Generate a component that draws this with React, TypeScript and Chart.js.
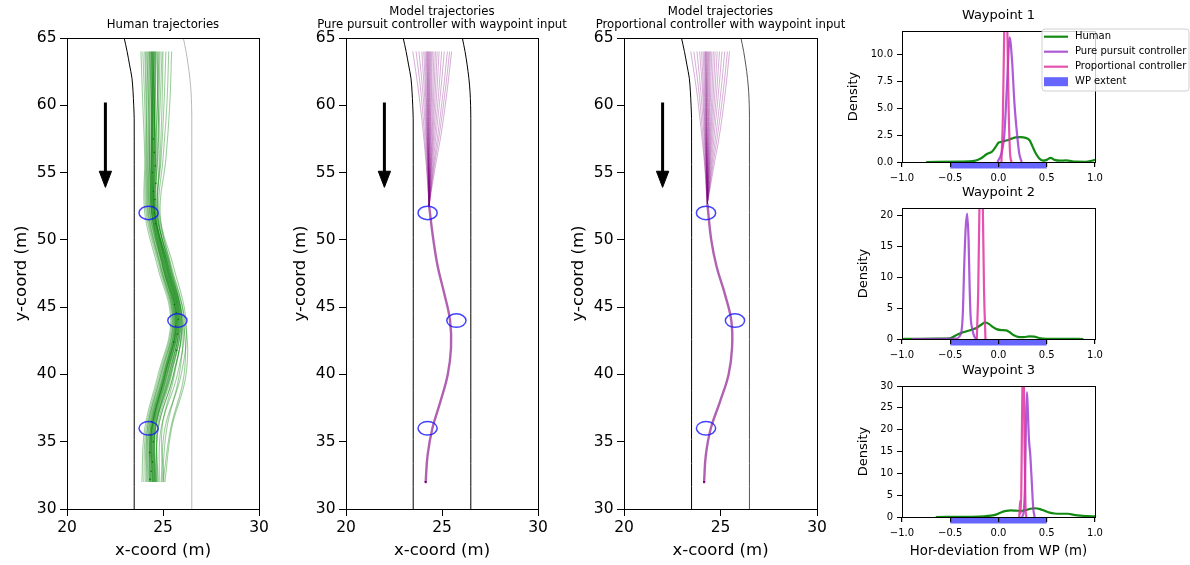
import React, { useEffect, useRef } from "react";
import { Chart, registerables } from "chart.js";

Chart.register(...registerables);
Chart.defaults.font.family = "'DejaVu Sans', 'Liberation Sans', sans-serif";
Chart.defaults.color = "#000";

const PAGE_W = 1190;
const PAGE_H = 565;

// ---------------- trajectory data ----------------
const TRAJ_TITLES_HUMAN = ["Human trajectories"];
const TRAJ_TITLES_PP = ["Model trajectories", "Pure pursuit controller with waypoint input"];
const TRAJ_TITLES_PROP = ["Model trajectories", "Proportional controller with waypoint input"];
const X_AXIS_TITLE = "x-coord (m)";
const Y_AXIS_TITLE = "y-coord (m)";
const TRAJ_X_RANGE = [20, 30];
const TRAJ_Y_RANGE = [30, 65];
const TRAJ_TICK_STEP = 5;

const HUMAN_Y = [64, 60, 56, 52, 48, 44, 40, 36, 32];
const HUMAN_X_RUNS = [
  [24.4, 24.42, 24.4, 24.42, 25.05, 25.7, 25.1, 24.4, 24.4],
  [24.55, 24.52, 24.48, 24.5, 25.15, 25.78, 25.2, 24.48, 24.5],
  [24.3, 24.32, 24.3, 24.35, 24.98, 25.62, 25.02, 24.32, 24.3],
  [24.65, 24.6, 24.55, 24.58, 25.22, 25.85, 25.3, 24.55, 24.58],
  [24.2, 24.22, 24.22, 24.25, 24.9, 25.55, 24.95, 24.25, 24.2],
  [24.75, 24.7, 24.62, 24.62, 25.28, 25.92, 25.4, 24.62, 24.65],
  [24.1, 24.15, 24.15, 24.18, 24.85, 25.5, 24.88, 24.18, 24.1],
  [24.5, 24.48, 24.45, 24.48, 25.12, 25.75, 25.18, 24.45, 24.48],
  [24.35, 24.38, 24.36, 24.4, 25.02, 25.66, 25.06, 24.36, 24.35],
  [24.6, 24.55, 24.52, 24.55, 25.18, 25.8, 25.25, 24.52, 24.55],
  [24.45, 24.45, 24.42, 24.45, 25.1, 25.72, 25.15, 24.42, 24.45],
  [24.25, 24.28, 24.26, 24.3, 24.95, 25.58, 25.0, 24.28, 24.25],
  [24.85, 24.78, 24.7, 24.68, 25.35, 26.0, 25.55, 24.75, 24.7],
  [25.0, 24.95, 24.85, 24.75, 25.45, 26.1, 25.75, 24.9, 24.8],
  [25.3, 25.2, 25.0, 24.8, 25.55, 26.2, 25.95, 25.1, 24.9],
  [23.95, 24.05, 24.1, 24.12, 24.8, 25.45, 24.82, 24.12, 24.0],
  [23.85, 23.95, 24.05, 24.05, 24.72, 25.4, 24.75, 24.05, 23.9],
  [25.45, 25.35, 25.15, 24.85, 25.4, 26.05, 26.1, 25.4, 25.0],
  [24.7, 24.75, 24.8, 24.72, 25.3, 25.95, 25.6, 24.95, 25.05],
  [24.4, 24.5, 24.6, 24.58, 25.25, 25.9, 25.45, 24.7, 24.75],
  [24.55, 24.45, 24.38, 24.4, 25.0, 25.6, 25.05, 24.35, 24.35],
  [24.3, 24.4, 24.48, 24.52, 25.2, 25.82, 25.35, 24.58, 24.6],
  [24.15, 24.25, 24.3, 24.32, 25.0, 25.65, 25.1, 24.4, 24.3],
  [24.95, 24.85, 24.72, 24.6, 25.25, 25.88, 25.4, 24.6, 24.55],
  [24.48, 24.46, 24.44, 24.46, 25.08, 25.7, 25.12, 24.42, 24.42],
  [24.62, 24.58, 24.5, 24.52, 25.15, 25.76, 25.22, 24.5, 24.52],
  [24.38, 24.4, 24.4, 24.42, 25.06, 25.68, 25.12, 24.44, 24.46],
  [24.52, 24.55, 24.55, 24.56, 25.2, 25.84, 25.32, 24.6, 24.62],
  [25.15, 25.05, 24.9, 24.7, 25.35, 25.98, 25.55, 24.75, 24.65],
  [24.05, 24.12, 24.18, 24.22, 24.88, 25.52, 24.9, 24.2, 24.15],
  [24.8, 24.7, 24.6, 24.55, 25.3, 26.0, 25.85, 25.2, 24.95],
  [24.45, 24.55, 24.65, 24.65, 25.4, 26.15, 26.2, 25.45, 25.1],
];
const HUMAN_DOT_X = [24.5, 24.55, 24.6, 24.45, 24.62, 24.5, 24.58, 24.48, 24.55, 24.6, 25.6, 25.7, 25.8, 25.65, 25.75, 25.55, 25.7, 24.4, 24.35, 24.5, 24.3, 24.45, 24.38, 24.32];
const HUMAN_DOT_Y = [57.5, 56.5, 55.5, 55, 54.2, 53.6, 53, 52.5, 52, 51.2, 45.2, 44.6, 44.1, 43.6, 43, 42.4, 41.8, 36.5, 35.5, 35, 34.2, 33.5, 32.8, 32.2];

const FAN_Y = [64, 61, 58, 55.5, 53.5];
const PP_FAN_X = [
  [23.48, 23.78, 24.02, 24.18, 24.28],
  [23.65, 23.9, 24.08, 24.21, 24.29],
  [23.8, 24.0, 24.14, 24.24, 24.3],
  [23.95, 24.08, 24.18, 24.26, 24.31],
  [24.05, 24.14, 24.21, 24.27, 24.31],
  [24.12, 24.18, 24.23, 24.28, 24.32],
  [24.18, 24.22, 24.25, 24.29, 24.32],
  [24.22, 24.25, 24.27, 24.3, 24.32],
  [24.28, 24.29, 24.3, 24.31, 24.33],
  [24.32, 24.32, 24.32, 24.32, 24.33],
  [24.36, 24.35, 24.34, 24.33, 24.33],
  [24.4, 24.38, 24.36, 24.34, 24.34],
  [24.45, 24.42, 24.39, 24.36, 24.34],
  [24.5, 24.46, 24.41, 24.37, 24.34],
  [24.58, 24.52, 24.45, 24.39, 24.35],
  [24.66, 24.58, 24.49, 24.41, 24.35],
  [24.75, 24.65, 24.53, 24.43, 24.36],
  [24.85, 24.73, 24.58, 24.45, 24.37],
  [24.98, 24.83, 24.64, 24.48, 24.38],
  [25.12, 24.93, 24.71, 24.52, 24.39],
  [25.28, 25.06, 24.8, 24.56, 24.4],
  [25.4, 25.16, 24.88, 24.6, 24.41],
  [25.5, 25.26, 24.97, 24.66, 24.43],
  [24.26, 24.27, 24.28, 24.3, 24.32],
];
const PP_TAIL_Y = [52.5, 50, 48, 46, 44, 42, 40, 38, 36, 34, 32];
const PP_TAIL_X = [24.33, 24.55, 24.78, 25.12, 25.42, 25.47, 25.3, 24.92, 24.5, 24.25, 24.15];

const PROP_FAN_X = [
  [23.46, 23.77, 24.01, 24.18, 24.27],
  [23.62, 23.88, 24.07, 24.2, 24.28],
  [23.78, 23.98, 24.13, 24.23, 24.29],
  [23.92, 24.07, 24.17, 24.25, 24.3],
  [24.02, 24.12, 24.2, 24.26, 24.3],
  [24.1, 24.17, 24.22, 24.27, 24.31],
  [24.16, 24.21, 24.24, 24.28, 24.31],
  [24.21, 24.24, 24.26, 24.29, 24.31],
  [24.26, 24.27, 24.28, 24.3, 24.32],
  [24.3, 24.3, 24.3, 24.31, 24.32],
  [24.34, 24.33, 24.33, 24.32, 24.32],
  [24.38, 24.36, 24.35, 24.33, 24.33],
  [24.43, 24.4, 24.37, 24.35, 24.33],
  [24.48, 24.44, 24.4, 24.36, 24.33],
  [24.55, 24.49, 24.43, 24.38, 24.34],
  [24.63, 24.56, 24.47, 24.4, 24.34],
  [24.72, 24.63, 24.51, 24.42, 24.35],
  [24.83, 24.71, 24.56, 24.44, 24.36],
  [24.95, 24.8, 24.62, 24.47, 24.37],
  [25.08, 24.9, 24.69, 24.51, 24.38],
  [25.22, 25.02, 24.78, 24.55, 24.39],
  [25.36, 25.14, 24.87, 24.6, 24.4],
  [25.47, 25.25, 24.97, 24.66, 24.42],
  [24.24, 24.26, 24.27, 24.29, 24.31],
];
const PROP_TAIL_Y = [52.7, 50, 48, 46, 44, 42, 40, 38, 36, 34, 32];
const PROP_TAIL_X = [24.32, 24.52, 24.8, 25.22, 25.56, 25.6, 25.42, 24.98, 24.5, 24.24, 24.15];

const WP_X = [24.25, 25.75, 24.25];
const WP_Y = [52, 44, 36];
const WP_RADIUS = 0.5;

const ROAD_Y = [65, 64, 63, 62, 61, 60, 59, 30];
const ROAD_LEFT_X = [22.98, 23.13, 23.26, 23.385, 23.44, 23.475, 23.5, 23.5];
const ROAD_RIGHT_X = [26.06, 26.2, 26.31, 26.4, 26.46, 26.49, 26.5, 26.5];

const ARROW_SHAFT_X = [22, 22];
const ARROW_SHAFT_Y = [60.2, 55.0];
const ARROW_HEAD_X = [21.68, 22.32, 22, 21.68];
const ARROW_HEAD_Y = [55.1, 55.1, 53.9, 55.1];

// ---------------- density data ----------------
const SERIES_LABELS = ["Human", "Pure pursuit controller", "Proportional controller", "WP extent"];
const HUMAN_COLOR = "#138a13";
const PP_COLOR = "rgba(153,50,204,0.8)";
const PROP_COLOR = "rgba(225,50,160,0.85)";
const WP_EXTENT_COLOR = "rgba(0,0,255,0.6)";
const WP_EXTENT = [-0.5, 0.5];
const DENS_TITLES = ["Waypoint 1", "Waypoint 2", "Waypoint 3"];
const DENS_X_TITLE = "Hor-deviation from WP (m)";
const DENS_Y_TITLE = "Density";
const DENS_X_RANGE = [-1, 1];
const DENS_X_STEP = 0.5;
const DENS_Y_MAX = [12.2, 21.2, 30];
const DENS_Y_STEP = [2.5, 5, 5];

const WP1_HUMAN_X = [-0.75, -0.4, -0.25, -0.18, -0.12, -0.07, -0.03, 0.0, 0.04, 0.08, 0.13, 0.18, 0.23, 0.28, 0.32, 0.35, 0.38, 0.42, 0.46, 0.5, 0.54, 0.58, 0.64, 0.7, 0.8, 0.9, 0.97, 1.02];
const WP1_HUMAN_D = [0, 0.03, 0.1, 0.35, 0.75, 0.95, 1.4, 1.8, 1.9, 2.0, 2.15, 2.3, 2.32, 2.25, 2.05, 1.5, 0.9, 0.35, 0.12, 0.2, 0.38, 0.2, 0.12, 0.15, 0.03, 0.02, 0.12, 0.25];
const WP1_PP_X = [-0.01, 0.03, 0.06, 0.09, 0.115, 0.14, 0.165, 0.19, 0.215, 0.24];
const WP1_PP_D = [0, 0.8, 2.5, 7.5, 11.6, 9.5, 5.5, 2.8, 0.8, 0];
const WP1_PROP_X = [0.03, 0.045, 0.06, 0.075, 0.09, 0.105, 0.12, 0.135];
const WP1_PROP_D = [0, 4, 12.5, 16, 13, 5, 0.8, 0];

const WP2_HUMAN_X = [-1.0, -0.9, -0.6, -0.5, -0.44, -0.38, -0.33, -0.28, -0.23, -0.18, -0.14, -0.1, -0.06, -0.02, 0.03, 0.08, 0.12, 0.16, 0.2, 0.26, 0.32, 0.37, 0.42, 0.5, 0.7, 0.88];
const WP2_HUMAN_D = [0, 0.02, 0.05, 0.12, 0.6, 1.0, 1.25, 1.5, 1.78, 2.3, 2.7, 2.45, 1.95, 1.6, 1.45, 1.4, 1.05, 0.6, 0.35, 0.3, 0.42, 0.4, 0.15, 0.03, 0.02, 0];
const WP2_PP_X = [-0.9, -0.45, -0.39, -0.37, -0.355, -0.34, -0.325, -0.31, -0.3, -0.29, -0.27, -0.25, -0.23];
const WP2_PP_D = [0, 0.05, 0.8, 4, 12, 18, 20.3, 16, 9, 4, 1.5, 0.4, 0];
const WP2_PROP_X = [-0.225, -0.21, -0.195, -0.18, -0.165, -0.15, -0.135];
const WP2_PROP_D = [0, 8, 24, 30, 24, 8, 0];

const WP3_HUMAN_X = [-0.65, -0.3, -0.15, -0.08, -0.02, 0.03, 0.08, 0.13, 0.18, 0.23, 0.28, 0.33, 0.38, 0.43, 0.48, 0.53, 0.58, 0.65, 0.72, 0.78, 0.85, 0.92, 1.0];
const WP3_HUMAN_D = [0, 0.05, 0.15, 0.3, 0.6, 1.1, 1.4, 1.5, 1.45, 1.4, 1.55, 1.9, 2.0, 1.8, 1.4, 1.0, 0.8, 0.75, 0.75, 0.5, 0.3, 0.2, 0.12];
const WP3_PP_X = [0.24, 0.26, 0.275, 0.285, 0.295, 0.305, 0.315, 0.33, 0.345, 0.36, 0.375];
const WP3_PP_D = [0, 1, 8, 22, 28.6, 24, 18, 14, 8, 2, 0];
const WP3_PROP_X = [0.215, 0.225, 0.232, 0.24, 0.25, 0.26, 0.27, 0.28, 0.29];
const WP3_PROP_D = [0, 3.8, 0.8, 14, 34, 36, 16, 2, 0];

// ---------------- helpers ----------------
type Pt = { x: number; y: number };
type Rect = { left: number; top: number; right: number; bottom: number };
const pts = (xs: number[], ys: number[]): Pt[] => xs.map((x, i) => ({ x, y: ys[i] }));

function lineSet(data: Pt[], color: string, width: number, tension = 0.4, extra: any = {}) {
  return {
    data,
    borderColor: color,
    backgroundColor: color,
    borderWidth: width,
    pointRadius: 0,
    pointHoverRadius: 0,
    tension,
    fill: false,
    ...extra,
  };
}

const framePlugin = {
  id: "frameBox",
  afterDraw(chart: any) {
    const { ctx, chartArea: a } = chart;
    ctx.save();
    ctx.strokeStyle = "#000";
    ctx.lineWidth = 1;
    ctx.strokeRect(Math.round(a.left) + 0.5, Math.round(a.top) + 0.5, Math.round(a.right - a.left), Math.round(a.bottom - a.top));
    ctx.restore();
  },
};

// multi-line title centred over the plot area (wider than the plot, not squeezed)
function titlePlugin(lines: string[], size: number, lineGap: number, lastCenterAbove: number) {
  return {
    id: "panelTitle",
    afterDraw(chart: any) {
      const { ctx, chartArea: a } = chart;
      ctx.save();
      ctx.font = `${size}px 'DejaVu Sans', sans-serif`;
      ctx.fillStyle = "#000";
      ctx.textAlign = "center";
      ctx.textBaseline = "middle";
      const cx = (a.left + a.right) / 2;
      const n = lines.length;
      lines.forEach((t, i) => {
        ctx.fillText(t, cx, a.top - lastCenterAbove - (n - 1 - i) * lineGap);
      });
      ctx.restore();
    },
  };
}

function ellipsePlugin(xs: number[], ys: number[], r: number) {
  return {
    id: "wpEllipses",
    afterDatasetsDraw(chart: any) {
      const { ctx } = chart;
      const sx = chart.scales.x;
      const sy = chart.scales.y;
      ctx.save();
      ctx.strokeStyle = "rgba(20,20,255,0.8)";
      ctx.lineWidth = 1.5;
      xs.forEach((vx, i) => {
        const cx = sx.getPixelForValue(vx);
        const cy = sy.getPixelForValue(ys[i]);
        const rx = Math.abs(sx.getPixelForValue(vx + r) - cx);
        const ry = Math.abs(sy.getPixelForValue(ys[i] + r) - cy);
        ctx.beginPath();
        ctx.ellipse(cx, cy, rx, ry, 0, 0, Math.PI * 2);
        ctx.stroke();
      });
      ctx.restore();
    },
  };
}

function extentPlugin(range: number[], color: string) {
  return {
    id: "wpExtent",
    beforeDraw(chart: any) {
      const { ctx, chartArea: a } = chart;
      const sx = chart.scales.x;
      const x0 = sx.getPixelForValue(range[0]);
      const x1 = sx.getPixelForValue(range[1]);
      ctx.save();
      ctx.fillStyle = color;
      ctx.fillRect(x0, a.bottom + 0.5, x1 - x0, 6);
      ctx.restore();
    },
  };
}

function legendPlugin(labels: string[], colors: string[]) {
  return {
    id: "boxLegend",
    afterDraw(chart: any) {
      const { ctx, chartArea: a } = chart;
      const x0 = a.right - 53;
      const y0 = a.top - 2;
      const w = 147;
      const h = 62;
      ctx.save();
      ctx.beginPath();
      const rr = 3;
      ctx.moveTo(x0 + rr, y0);
      ctx.lineTo(x0 + w - rr, y0);
      ctx.quadraticCurveTo(x0 + w, y0, x0 + w, y0 + rr);
      ctx.lineTo(x0 + w, y0 + h - rr);
      ctx.quadraticCurveTo(x0 + w, y0 + h, x0 + w - rr, y0 + h);
      ctx.lineTo(x0 + rr, y0 + h);
      ctx.quadraticCurveTo(x0, y0 + h, x0, y0 + h - rr);
      ctx.lineTo(x0, y0 + rr);
      ctx.quadraticCurveTo(x0, y0, x0 + rr, y0);
      ctx.closePath();
      ctx.fillStyle = "rgba(255,255,255,0.8)";
      ctx.fill();
      ctx.strokeStyle = "#d0d0d0";
      ctx.lineWidth = 1;
      ctx.stroke();
      ctx.font = "10px 'DejaVu Sans', sans-serif";
      ctx.textBaseline = "middle";
      ctx.textAlign = "left";
      labels.forEach((lab, i) => {
        const cy = y0 + 7.7 + i * 15;
        if (i < labels.length - 1) {
          ctx.strokeStyle = colors[i];
          ctx.lineWidth = 2.2;
          ctx.beginPath();
          ctx.moveTo(x0 + 2, cy);
          ctx.lineTo(x0 + 26, cy);
          ctx.stroke();
        } else {
          ctx.fillStyle = colors[i];
          ctx.fillRect(x0 + 2, cy - 4.5, 24, 9);
        }
        ctx.fillStyle = "#000";
        ctx.fillText(lab, x0 + 33, cy);
      });
      ctx.restore();
    },
  };
}

// ---------------- configs ----------------
function trajConfig(rect: Rect, titleLines: string[], datasets: any[]) {
  const yAxisW = 62;
  const xAxisH = 56;
  return {
    type: "line",
    data: { datasets },
    plugins: [framePlugin, ellipsePlugin(WP_X, WP_Y, WP_RADIUS), titlePlugin(titleLines, 11.7, 13.4, 13)],
    options: {
      responsive: false,
      animation: false,
      events: [],
      layout: {
        padding: {
          left: rect.left - yAxisW,
          right: PAGE_W - rect.right,
          top: rect.top,
          bottom: PAGE_H - rect.bottom - xAxisH,
        },
      },
      plugins: {
        legend: { display: false },
        tooltip: { enabled: false },
        title: { display: false },
      },
      scales: {
        x: {
          type: "linear",
          min: TRAJ_X_RANGE[0],
          max: TRAJ_X_RANGE[1],
          ticks: { stepSize: TRAJ_TICK_STEP, font: { size: 15.5 }, color: "#000", padding: 3, maxRotation: 0, autoSkip: false, includeBounds: false },
          grid: { drawOnChartArea: false, drawTicks: true, tickLength: 7, color: "#000", tickColor: "#000", lineWidth: 1 },
          border: { display: false },
          title: { display: true, text: X_AXIS_TITLE, color: "#000", font: { size: 16.5 }, padding: { top: 0, bottom: 4.1 } },
          afterFit: (s: any) => {
            s.height = xAxisH;
          },
        },
        y: {
          type: "linear",
          min: TRAJ_Y_RANGE[0],
          max: TRAJ_Y_RANGE[1],
          ticks: { stepSize: TRAJ_TICK_STEP, font: { size: 15.5 }, color: "#000", padding: 3.5, autoSkip: false, includeBounds: false },
          grid: { drawOnChartArea: false, drawTicks: true, tickLength: 7, color: "#000", tickColor: "#000", lineWidth: 1 },
          border: { display: false },
          title: { display: true, text: Y_AXIS_TITLE, color: "#000", font: { size: 16.5 }, padding: { top: 7.1, bottom: 0 } },
          afterFit: (s: any) => {
            s.width = yAxisW;
          },
        },
      },
    },
  };
}

function densityConfig(rect: Rect, idx: number, datasets: any[], yTitleCenter: number, withXTitle: boolean, withLegend: boolean) {
  const yAxisW = 60;
  const xAxisH = withXTitle ? 48 : 30;
  const tSize = 13;
  const tPadB = 7.2;
  const titleH = tSize * 1.2 + tPadB;
  const yTitlePad = yTitleCenter - (rect.left - yAxisW) - 7.8;
  const step = DENS_Y_STEP[idx];
  const fmt = (v: number, digits: number) => {
    const s = Math.abs(v).toFixed(digits);
    return v < -1e-9 ? "\u2212" + s : s;
  };
  const plugins: any[] = [extentPlugin(WP_EXTENT, WP_EXTENT_COLOR), framePlugin];
  if (withLegend) plugins.push(legendPlugin(SERIES_LABELS, [HUMAN_COLOR, PP_COLOR, PROP_COLOR, WP_EXTENT_COLOR]));
  return {
    type: "line",
    data: { datasets },
    plugins,
    options: {
      responsive: false,
      animation: false,
      events: [],
      layout: {
        padding: {
          left: rect.left - yAxisW,
          right: PAGE_W - rect.right,
          top: rect.top - titleH,
          bottom: PAGE_H - rect.bottom - xAxisH,
        },
      },
      plugins: {
        legend: { display: false },
        tooltip: { enabled: false },
        title: {
          display: true,
          text: DENS_TITLES[idx],
          fullSize: false,
          color: "#000",
          font: { size: tSize, weight: "normal" },
          padding: { top: 0, bottom: tPadB },
        },
      },
      scales: {
        x: {
          type: "linear",
          min: DENS_X_RANGE[0],
          max: DENS_X_RANGE[1],
          ticks: { stepSize: DENS_X_STEP, font: { size: 10 }, color: "#000", padding: 5, maxRotation: 0, autoSkip: false, includeBounds: false, callback: (v: any) => fmt(Number(v), 1) },
          grid: { drawOnChartArea: false, drawTicks: true, tickLength: 5, color: "#000", tickColor: "#000", lineWidth: 1.2 },
          border: { display: false },
          title: { display: withXTitle, text: DENS_X_TITLE, color: "#000", font: { size: 13.3 }, padding: { top: 0, bottom: 5 } },
          afterFit: (s: any) => {
            s.height = xAxisH;
          },
        },
        y: {
          type: "linear",
          min: 0,
          max: DENS_Y_MAX[idx],
          ticks: { stepSize: step, font: { size: 10 }, color: "#000", padding: 4, autoSkip: false, includeBounds: false, callback: (v: any) => fmt(Number(v), step % 1 === 0 ? 0 : 1) },
          grid: { drawOnChartArea: false, drawTicks: true, tickLength: 5, color: "#000", tickColor: "#000", lineWidth: 1 },
          border: { display: false },
          title: { display: true, text: DENS_Y_TITLE, color: "#000", font: { size: 13 }, padding: { top: yTitlePad, bottom: 0 } },
          afterFit: (s: any) => {
            s.width = yAxisW;
          },
        },
      },
    },
  };
}

function roadSets(leftColor: string, rightColor: string) {
  return [
    lineSet(pts(ROAD_LEFT_X, ROAD_Y), leftColor, 1, 0.3),
    lineSet(pts(ROAD_RIGHT_X, ROAD_Y), rightColor, 1, 0.3),
  ];
}

function arrowSets() {
  return [
    lineSet(pts(ARROW_SHAFT_X, ARROW_SHAFT_Y), "#000", 3, 0),
    lineSet(pts(ARROW_HEAD_X, ARROW_HEAD_Y), "#000", 1, 0, { fill: "shape", backgroundColor: "#000" }),
  ];
}

function modelSets(fanX: number[][], tailX: number[], tailY: number[]) {
  const conv = { x: tailX[0], y: tailY[0] };
  const fans = fanX.map((xs) => lineSet([...pts(xs, FAN_Y), conv], "rgba(128,0,128,0.32)", 1, 0.4));
  const tail = lineSet(pts(tailX, tailY), "rgba(128,0,128,0.62)", 2.4, 0.4);
  const ends = lineSet(pts([tailX[tailX.length - 1]], [tailY[tailY.length - 1]]), "#800080", 0, 0, {
    showLine: false,
    pointRadius: 1.5,
    pointStyle: "rect",
    pointBackgroundColor: "#800080",
    pointBorderWidth: 0,
  });
  return [...fans, tail, ends];
}

function densitySets(hx: number[], hd: number[], px: number[], pd: number[], qx: number[], qd: number[]) {
  const opt = { cubicInterpolationMode: "monotone" };
  return [
    lineSet(pts(hx, hd), HUMAN_COLOR, 2.2, 0.4, { ...opt, order: 3 }),
    lineSet(pts(px, pd), PP_COLOR, 2.2, 0.4, { ...opt, order: 2 }),
    lineSet(pts(qx, qd), PROP_COLOR, 2.2, 0.4, { ...opt, order: 1 }),
  ];
}

function buildConfigs(): any[] {
  const humanSets = [
    ...roadSets("#000", "#b8b8b8"),
    ...HUMAN_X_RUNS.map((xs) => lineSet(pts(xs, HUMAN_Y), "rgba(0,128,0,0.38)", 1.1, 0.4)),
    lineSet(pts(HUMAN_DOT_X, HUMAN_DOT_Y), "#0a5a0a", 0, 0, {
      showLine: false,
      pointRadius: 0.8,
      pointBackgroundColor: "#0a5a0a",
      pointBorderWidth: 0,
    }),
    ...arrowSets(),
  ];
  const ppSets = [...roadSets("#000", "#000"), ...modelSets(PP_FAN_X, PP_TAIL_X, PP_TAIL_Y), ...arrowSets()];
  const propSets = [...roadSets("#000", "#555"), ...modelSets(PROP_FAN_X, PROP_TAIL_X, PROP_TAIL_Y), ...arrowSets()];

  return [
    trajConfig({ left: 67, top: 38, right: 259, bottom: 509 }, TRAJ_TITLES_HUMAN, humanSets),
    trajConfig({ left: 346, top: 38, right: 538, bottom: 509 }, TRAJ_TITLES_PP, ppSets),
    trajConfig({ left: 624, top: 38, right: 817, bottom: 509 }, TRAJ_TITLES_PROP, propSets),
    densityConfig({ left: 902, top: 31, right: 1095, bottom: 162 }, 0,
      densitySets(WP1_HUMAN_X, WP1_HUMAN_D, WP1_PP_X, WP1_PP_D, WP1_PROP_X, WP1_PROP_D), 854, false, true),
    densityConfig({ left: 902, top: 208, right: 1095, bottom: 339 }, 1,
      densitySets(WP2_HUMAN_X, WP2_HUMAN_D, WP2_PP_X, WP2_PP_D, WP2_PROP_X, WP2_PROP_D), 864, false, false),
    densityConfig({ left: 902, top: 386, right: 1095, bottom: 517 }, 2,
      densitySets(WP3_HUMAN_X, WP3_HUMAN_D, WP3_PP_X, WP3_PP_D, WP3_PROP_X, WP3_PROP_D), 864, true, false),
  ];
}

export default function App() {
  const canvases = useRef<(HTMLCanvasElement | null)[]>([]);
  useEffect(() => {
    const configs = buildConfigs();
    const charts = configs.map((cfg, i) => new Chart(canvases.current[i] as HTMLCanvasElement, cfg));
    return () => charts.forEach((c) => c.destroy());
  }, []);
  return (
    <div style={{ position: "absolute", left: 0, top: 0, width: PAGE_W, height: PAGE_H, background: "#fff", overflow: "hidden" }}>
      {[0, 1, 2, 3, 4, 5].map((i) => (
        <canvas
          key={i}
          ref={(el) => {
            canvases.current[i] = el;
          }}
          width={PAGE_W}
          height={PAGE_H}
          style={{ position: "absolute", left: 0, top: 0, width: PAGE_W, height: PAGE_H }}
        />
      ))}
    </div>
  );
}
